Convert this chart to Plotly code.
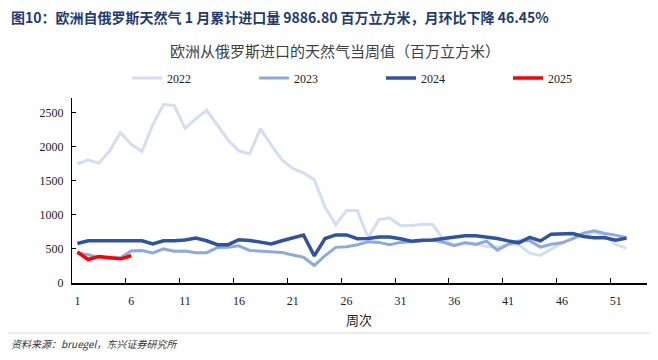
import plotly.graph_objects as go

weeks = list(range(1, 53))
weeks_2025 = list(range(1, 7))

v2022 = [1750, 1805, 1760, 1940, 2210, 2035, 1930, 2325, 2620, 2605, 2270, 2410, 2535,
         2315, 2100, 1940, 1895, 2265, 2025, 1805, 1680, 1615, 1515, 1110, 858, 1065,
         1065, 665, 930, 955, 845, 845, 858, 858, 634, 561, 595, 575, 536, 527, 571,
         561, 439, 405, 498, 586, 649, 698, 746, 698, 561, 512]
v2023 = [440, 415, 375, 365, 370, 470, 475, 440, 500, 465, 470, 445, 445, 520, 525, 545,
         478, 465, 460, 446, 412, 378, 257, 402, 523, 533, 562, 605, 596, 562, 596, 606,
         620, 630, 598, 548, 590, 566, 615, 483, 566, 617, 622, 527, 568, 590, 652, 732,
         766, 727, 703, 663]
v2024 = [580, 620, 620, 620, 630, 630, 620, 572, 620, 620, 630, 659, 620, 562, 562, 635,
         625, 600, 572, 620, 669, 705, 398, 652, 705, 705, 650, 652, 676, 676, 650, 612,
         627, 630, 654, 680, 695, 695, 673, 654, 618, 590, 671, 618, 717, 717, 727, 683,
         664, 664, 627, 659]
v2025 = [455, 345, 390, 370, 355, 400]

label_weeks = [1, 6, 11, 16, 21, 26, 31, 36, 41, 46, 51]
boundary_ticks = [5.5, 10.5, 15.5, 20.5, 25.5, 30.5, 35.5, 40.5, 45.5, 50.5]
y_ticks = [0, 500, 1000, 1500, 2000, 2500]

series = [
    ("2022", weeks, v2022, "#D3DEF3", 3),
    ("2023", weeks, v2023, "#8EA9DB", 3),
    ("2024", weeks, v2024, "#2E54A1", 3.5),
    ("2025", weeks_2025, v2025, "#FF0000", 3.5),
]

fig = go.Figure()
for name, xs, ys, color, w in series:
    fig.add_trace(go.Scatter(x=xs, y=ys, name=name, mode="lines",
                             line=dict(color=color, width=w)))

# the page places the figure 8px from the top-left of the window
OFF = 8
W, H = 658 - OFF, 360 - OFF
L, R, T, B = 72 - OFF, 11, 98 - OFF, 77
pw, ph = W - L - R, H - T - B


def px(x):  # window x -> paper
    return (x - 72) / pw


def py(y):  # window y -> paper
    return (283 - y) / ph


serif = "Liberation Serif"
cjk = "Noto Sans CJK SC"

fig.update_layout(
    width=W, height=H,
    margin=dict(l=L, r=R, t=T, b=B, autoexpand=False),
    plot_bgcolor="white", paper_bgcolor="white",
    showlegend=True,
    legend=dict(orientation="h", xref="container", yref="container",
                x=(127 - OFF) / W, y=1 - (78 - OFF) / H, xanchor="left", yanchor="middle",
                font=dict(family=serif, size=12, color="#222222"),
                entrywidth=82, entrywidthmode="pixels",
                itemwidth=30, bgcolor="rgba(0,0,0,0)"),
    xaxis=dict(range=[0.5, 53.9], tickmode="array", tickvals=label_weeks,
               ticktext=[str(v) for v in label_weeks], ticks="",
               showline=True, linecolor="#000000", linewidth=1.5,
               showgrid=False, zeroline=False,
               tickfont=dict(family=serif, size=12, color="#222222"),
               ticklabelstandoff=6,
               minor=dict(tickmode="array", tickvals=boundary_ticks, ticks="inside",
                          ticklen=5, tickwidth=1, tickcolor="#000000", showgrid=False)),
    yaxis=dict(range=[0, 2715], tickmode="array", tickvals=y_ticks, ticks="inside",
               ticklen=4, tickcolor="#000000", showline=True, linecolor="#000000",
               linewidth=1, showgrid=False, zeroline=False,
               tickfont=dict(family=serif, size=12, color="#222222"),
               ticklabelstandoff=5),
)

annotations = [
    dict(text="<b>图10：欧洲自俄罗斯天然气 1 月累计进口量 9886.80 百万立方米，月环比下降 46.45%</b>",
         x=px(9), y=py(17), xanchor="left", yanchor="middle",
         font=dict(family=cjk, size=14, color="#1F3B70")),
    dict(text="欧洲从俄罗斯进口的天然气当周值（百万立方米）",
         x=px(335), y=py(50), xanchor="center", yanchor="middle",
         font=dict(family=cjk, size=15, color="#404040")),
    dict(text="周次", x=px(359), y=py(319), xanchor="center", yanchor="middle",
         font=dict(family=cjk, size=13, color="#222222")),
    dict(text="<i>资料来源：bruegel，东兴证券研究所</i>",
         x=px(9), y=py(343), xanchor="left", yanchor="middle",
         font=dict(family=cjk, size=10, color="#333333")),
]
for a in annotations:
    a.update(xref="paper", yref="paper", showarrow=False)
fig.update_layout(annotations=annotations)

fig.add_shape(type="line", xref="paper", yref="paper",
              x0=px(OFF), x1=px(658), y0=py(333), y1=py(333),
              line=dict(color="#D9D9D9", width=1))

fig.write_html("out.html")
